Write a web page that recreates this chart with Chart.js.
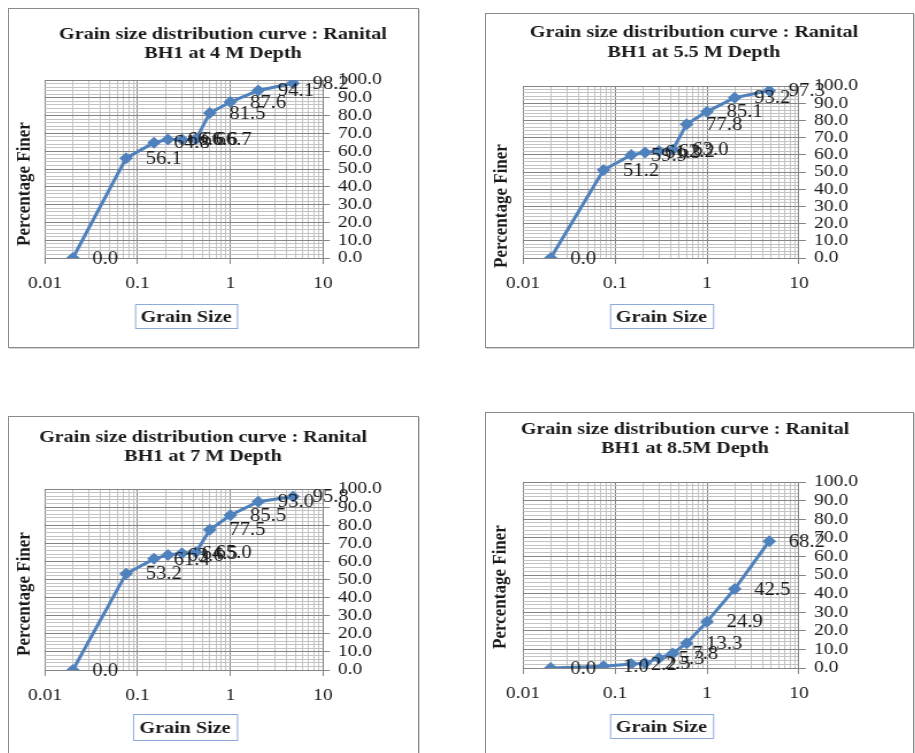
<!DOCTYPE html>
<html><head><meta charset="utf-8">
<script src="https://cdn.jsdelivr.net/npm/chart.js@4.4.1/dist/chart.umd.min.js"></script>
<style>
html,body{margin:0;padding:0;background:#fff;width:915px;height:753px;overflow:hidden;position:relative}
.panel{position:absolute;border:1px solid #8a8a8a;box-sizing:border-box;background:#fff;box-shadow:1px 1px 0 #d4d4d4;overflow:hidden}
.panel canvas{position:absolute;left:0;top:0;transform-origin:0 0}
</style></head><body>
<div id="w1" class="panel"><canvas id="c1"></canvas></div>
<div id="w2" class="panel"><canvas id="c2"></canvas></div>
<div id="w3" class="panel"><canvas id="c3"></canvas></div>
<div id="w4" class="panel"><canvas id="c4"></canvas></div>
<script>
// ---- data ----
const grainSizes = [0.02, 0.075, 0.15, 0.212, 0.3, 0.425, 0.6, 1, 2, 4.75];
const finer4m   = [0.0, 56.1, 64.8, 66.6, 66.6, 66.7, 81.5, 87.6, 94.1, 98.2];
const finer55m  = [0.0, 51.2, 59.9, 61.3, 62.2, 63.0, 77.8, 85.1, 93.2, 97.3];
const finer7m   = [0.0, 53.2, 61.4, 63.6, 64.5, 65.0, 77.5, 85.5, 93.0, 95.8];
const finer85m  = [0.0, 1.0, 2.2, 2.5, 5.3, 7.8, 13.3, 24.9, 42.5, 68.2];
const titleLine1 = "Grain size distribution curve : Ranital";
const depthTitles = ["BH1 at 4 M Depth", "BH1 at 5.5 M Depth", "BH1 at 7 M Depth", "BH1 at 8.5M Depth"];
const xAxisTitle = "Grain Size";
const yAxisTitle = "Percentage Finer";
const xDecadeTicks = [0.01, 0.1, 1, 10];
const xMinorMultipliers = [2, 3, 4, 5, 6, 7, 8, 9];
const yMajorTicks = [0, 10, 20, 30, 40, 50, 60, 70, 80, 90, 100];
const yMinorStep = 2;

// ---- layout (global page pixels) ----
const STRETCH = 1.15;
const YW = 64, XH = 34;
const SERIF = "'Liberation Serif', 'Times New Roman', serif";
const panels = [
  {wrap:'w1', canvas:'c1', values:finer4m,  depth:depthTitles[0], box:[8,8,419,348],   plot:[45,80,323,258],  title:[223,34,53],   yTitle:[25,184], xBox:[135,304,237,328]},
  {wrap:'w2', canvas:'c2', values:finer55m, depth:depthTitles[1], box:[485,13,914,348], plot:[523,86,799,258], title:[694,32,52],   yTitle:[502,206], xBox:[610,304,713,328]},
  {wrap:'w3', canvas:'c3', values:finer7m,  depth:depthTitles[2], box:[8,416,419,770],  plot:[45,489,323,670], title:[203,437,456], yTitle:[25,594], xBox:[133,714,237,740]},
  {wrap:'w4', canvas:'c4', values:finer85m, depth:depthTitles[3], box:[485,412,914,770],plot:[523,482,799,668], title:[685,429,448], yTitle:[500,587], xBox:[610,714,713,738]}
];

const xTickValues = [];
xDecadeTicks.forEach((d, i) => {
  xTickValues.push(d);
  if (i < xDecadeTicks.length - 1) xMinorMultipliers.forEach(m => xTickValues.push(+(d * m).toPrecision(6)));
});
const yTickValues = [];
for (let v = 0; v <= 100; v += yMinorStep) yTickValues.push(v);
const isDecade = v => Math.abs(Math.log10(v) - Math.round(Math.log10(v))) < 1e-9;

const MAJOR = '#858585', MINOR = '#c3c3c3';

function makeChart(p) {
  const [bl, bt, br, bb] = p.box;
  const wrap = document.getElementById(p.wrap);
  wrap.style.left = bl + 'px'; wrap.style.top = bt + 'px';
  wrap.style.width = (br - bl) + 'px'; wrap.style.height = (bb - bt) + 'px';
  const innerW = br - bl - 2, innerH = bb - bt - 2;
  const Wc = Math.round(innerW / STRETCH);
  const sx = innerW / Wc;
  const canvas = document.getElementById(p.canvas);
  canvas.width = Wc; canvas.height = innerH;
  canvas.style.width = Wc + 'px'; canvas.style.height = innerH + 'px';
  canvas.style.transform = 'scaleX(' + sx + ')';
  const ox = bl + 1, oy = bt + 1;
  const cx = g => (g - ox) / sx, cy = g => g - oy;
  const [pl, pt, pr, pb] = p.plot;
  const padding = {left: cx(pl), top: cy(pt), right: Wc - cx(pr) - YW, bottom: innerH - cy(pb) - XH};

  const textPlugin = {
    id: 'texts' + p.canvas,
    afterDatasetsDraw(chart) {
      const ctx = chart.ctx;
      const meta = chart.getDatasetMeta(0);
      ctx.save();
      ctx.font = '18px ' + SERIF;
      ctx.fillStyle = '#1a1a1a';
      ctx.textAlign = 'left';
      ctx.textBaseline = 'middle';
      meta.data.forEach((el, i) => {
        ctx.fillText(p.values[i].toFixed(1), el.x + 17, el.y + 1);
      });
      ctx.restore();
    },
    afterDraw(chart) {
      const ctx = chart.ctx;
      ctx.save();
      ctx.fillStyle = '#1a1a1a';
      ctx.textAlign = 'center';
      ctx.textBaseline = 'middle';
      ctx.font = 'bold 17.5px ' + SERIF;
      ctx.fillText(titleLine1, cx(p.title[0]), cy(p.title[1]));
      ctx.fillText(p.depth, cx(p.title[0]), cy(p.title[2]));
      // y title
      ctx.save();
      ctx.translate(cx(p.yTitle[0]), cy(p.yTitle[1]));
      ctx.rotate(-Math.PI / 2);
      ctx.font = 'bold 17px ' + SERIF;
      ctx.fillText(yAxisTitle, 0, 0);
      ctx.restore();
      // x title with box
      const [x1, y1, x2, y2] = p.xBox;
      ctx.strokeStyle = '#8eaadb';
      ctx.lineWidth = 1;
      ctx.strokeRect(cx(x1) + 0.5, cy(y1) + 0.5, cx(x2) - cx(x1), cy(y2) - cy(y1));
      ctx.font = 'bold 17.5px ' + SERIF;
      ctx.fillText(xAxisTitle, (cx(x1) + cx(x2)) / 2, (cy(y1) + cy(y2)) / 2 + 1);
      ctx.restore();
    }
  };

  return new Chart(canvas, {
    type: 'line',
    data: {
      datasets: [{
        data: grainSizes.map((x, i) => ({x: x, y: p.values[i]})),
        borderColor: '#4F81BD', backgroundColor: '#4F81BD',
        borderWidth: 3, tension: 0,
        pointStyle: 'rectRot', pointRadius: 6, pointBorderWidth: 0,
        pointBackgroundColor: '#4F81BD'
      }]
    },
    options: {
      responsive: false, animation: false, devicePixelRatio: 1,
      layout: {padding: padding},
      plugins: {legend: {display: false}, tooltip: {enabled: false}, title: {display: false}},
      scales: {
        x: {
          type: 'logarithmic', position: 'bottom', min: 0.01, max: 10,
          afterBuildTicks: s => { s.ticks = xTickValues.map(v => ({value: v, major: isDecade(v)})); },
          afterFit: s => { s.height = XH; },
          grid: {
            color: c => (c.tick && isDecade(c.tick.value)) ? MAJOR : MINOR,
            tickColor: c => (c.tick && isDecade(c.tick.value)) ? MAJOR : 'rgba(0,0,0,0)',
            lineWidth: 1, tickLength: 6, drawTicks: true
          },
          border: {color: MAJOR, width: 1},
          ticks: {
            autoSkip: false, maxRotation: 0, minRotation: 0, padding: 9,
            color: '#1a1a1a', font: {family: SERIF, size: 17},
            callback: v => isDecade(v) ? String(v) : ''
          }
        },
        y: {
          type: 'linear', position: 'right', min: 0, max: 100,
          afterBuildTicks: s => { s.ticks = yTickValues.map(v => ({value: v})); },
          afterFit: s => { s.width = YW; },
          grid: {
            color: c => (c.tick && c.tick.value % 10 === 0) ? MAJOR : MINOR,
            tickColor: c => (c.tick && c.tick.value % 10 === 0) ? MAJOR : 'rgba(0,0,0,0)',
            lineWidth: 1, tickLength: 6, drawTicks: true
          },
          border: {color: MAJOR, width: 1},
          ticks: {
            autoSkip: false, padding: 7,
            color: '#1a1a1a', font: {family: SERIF, size: 17},
            callback: v => yMajorTicks.includes(v) ? v.toFixed(1) : ''
          }
        }
      }
    },
    plugins: [textPlugin]
  });
}

panels.forEach(makeChart);
</script>
</body></html>
